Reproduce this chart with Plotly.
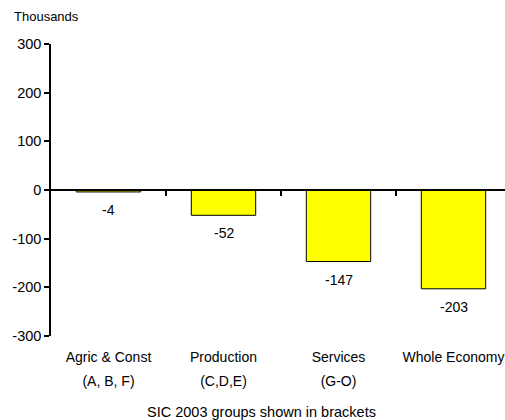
import plotly.graph_objects as go

categories = ["Agric & Const", "Production", "Services", "Whole Economy"]
sic_codes = ["(A, B, F)", "(C,D,E)", "(G-O)", ""]
values = [-4, -52, -147, -203]
value_labels = ["-4", "-52", "-147", "-203"]
y_ticks = [-300, -200, -100, 0, 100, 200, 300]
y_tick_text = ["-300", "-200", "-100", "0", "100", "200", "300"]

FONT = "Liberation Sans, Arial, sans-serif"
W, H = 505, 420
ML, MR, MT, MB = 51, 0, 44, 84
plot_w = W - ML - MR
plot_h = H - MT - MB
cat_px = 115.0
xr = [-0.5, -0.5 + plot_w / cat_px]
pos = list(range(len(categories)))

fig = go.Figure()
fig.add_trace(go.Bar(
    x=pos,
    y=values,
    width=0.56,
    marker=dict(color="#FFFF00", line=dict(color="#000000", width=1)),
    hoverinfo="skip",
))

for i, (v, t) in enumerate(zip(values, value_labels)):
    fig.add_annotation(x=i, y=v, text=t, showarrow=False, yshift=-18,
                       xanchor="center", yanchor="middle",
                       font=dict(family=FONT, size=14, color="#000"))

fig.add_annotation(text="Thousands", xref="paper", yref="paper",
                   x=(12 - ML) / plot_w, y=(H - MB - 17) / plot_h,
                   xanchor="left", yanchor="middle", showarrow=False,
                   font=dict(family=FONT, size=13, color="#000"))
fig.add_annotation(text="SIC 2003 groups shown in brackets", xref="paper", yref="paper",
                   x=(261 - ML) / plot_w, y=(H - MB - 412) / plot_h,
                   xanchor="center", yanchor="middle", showarrow=False,
                   font=dict(family=FONT, size=14.5, color="#000"))

fig.update_layout(
    width=W, height=H,
    margin=dict(l=ML, r=MR, t=MT, b=MB, pad=0),
    paper_bgcolor="white", plot_bgcolor="white",
    showlegend=False,
    font=dict(family=FONT, size=14, color="#000"),
    xaxis=dict(
        range=xr,
        tickmode="array",
        tickvals=pos,
        ticktext=categories,
        ticks="",
        showgrid=False, zeroline=False,
        showline=False,
        ticklabelstandoff=157,
        anchor="free", position=0.5,
        tickfont=dict(size=14),
    ),
    xaxis2=dict(
        overlaying="x",
        range=xr,
        tickmode="array",
        tickvals=[i + 0.5 for i in pos[:-1]],
        showticklabels=False,
        ticks="outside", ticklen=5, tickwidth=1.5, tickcolor="#000",
        showline=True, linecolor="#000", linewidth=1.5,
        showgrid=False, zeroline=False,
        anchor="free", position=0.5,
    ),
    xaxis3=dict(
        overlaying="x",
        range=xr,
        tickmode="array",
        tickvals=pos,
        ticktext=sic_codes,
        ticks="",
        showgrid=False, zeroline=False,
        showline=False,
        ticklabelstandoff=181,
        anchor="free", position=0.5,
        tickfont=dict(size=14),
    ),
    yaxis=dict(
        range=[-300, 300],
        tickmode="array",
        tickvals=y_ticks,
        ticktext=y_tick_text,
        tickfont=dict(size=14.5),
        ticks="outside", ticklen=5, tickwidth=1.5, tickcolor="#000",
        showline=True, linecolor="#000", linewidth=1.5,
        showgrid=False, zeroline=False,
    ),
)
fig.add_trace(go.Scatter(x=[0], y=[0], xaxis="x2", mode="markers",
                         marker=dict(opacity=0), hoverinfo="skip", showlegend=False))
fig.add_trace(go.Scatter(x=[0], y=[0], xaxis="x3", mode="markers",
                         marker=dict(opacity=0), hoverinfo="skip", showlegend=False))

fig.write_html("out.html", config={"displayModeBar": False},
               post_script="document.body.style.margin='0';document.body.style.overflow='hidden';")
